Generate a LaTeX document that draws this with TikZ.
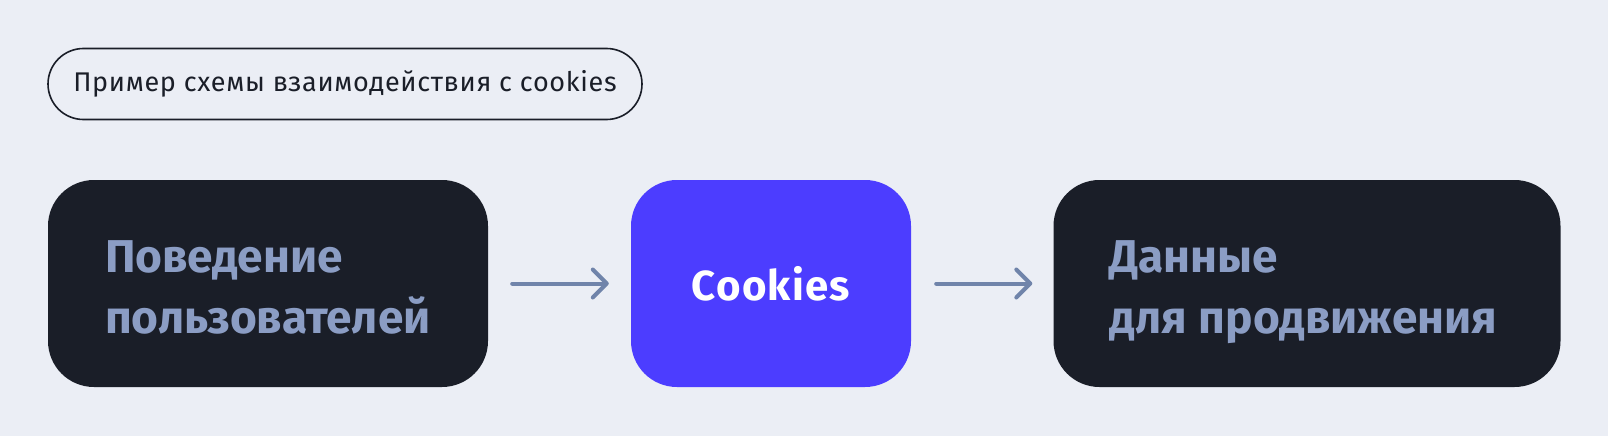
\documentclass[tikz,border=0pt]{standalone}
\usepackage{fontspec}
\setmainfont{Fira Sans}
\usetikzlibrary{arrows.meta}
\definecolor{bgc}{HTML}{EBEEF5}
\definecolor{darkc}{HTML}{1A1E28}
\definecolor{bluec}{HTML}{4C3DFF}
\definecolor{softc}{HTML}{8B9DC4}
\definecolor{arrowc}{HTML}{7084AA}
\tikzset{
  darkbox/.style={fill=darkc, rounded corners=46pt, minimum height=207pt,
    text=softc, font=\bfseries\fontsize{46}{61}\selectfont, align=left,
    inner ysep=0pt},
  bluebox/.style={fill=bluec, rounded corners=46pt, minimum height=207pt,
    minimum width=280pt, text=white,
    font=\bfseries\fontsize{42}{50}\selectfont\addfontfeatures{LetterSpace=3},
    inner sep=0pt},
  pillbox/.style={draw=darkc, line width=1.6pt, rounded corners=35.5pt,
    minimum height=71pt, minimum width=594pt, text=darkc,
    font=\fontsize{27}{32}\selectfont\addfontfeatures{LetterSpace=2.5},
    inner sep=0pt},
  flowarrow/.style={draw=arrowc, line width=4pt, line cap=round,
    -{Straight Barb[length=14pt,width=28pt,line width=4pt,round]}}
}
\newcommand{\topstrut}{\rule{0pt}{50pt}}
\newcommand{\botstrut}{\rule[-12pt]{0pt}{12pt}}
\begin{document}
\begin{tikzpicture}[x=1pt,y=-1pt]
  \fill[bgc] (0,0) rectangle (1608,436);
  \useasboundingbox (0,0) rectangle (1608,436);
  \node[pillbox] (title) at (345,84) {Пример схемы взаимодействия с cookies};
  \node[darkbox, inner xsep=57pt, text width=326pt] (behav) at (268,283.5)
    {\topstrut Поведение\\пользователей\botstrut};
  \node[bluebox] (cookies) at (771,283.5) {Cookies};
  \node[darkbox, inner xsep=56pt, text width=395pt] (data) at (1307,283.5)
    {\topstrut Данные\\для\kern0.25em продвижения\botstrut};
  \draw[flowarrow, shorten <=24pt, shorten >=22pt] (behav.east) -- (cookies.west);
  \draw[flowarrow, shorten <=25pt, shorten >=21pt] (cookies.east) -- (data.west);
\end{tikzpicture}
\end{document}
